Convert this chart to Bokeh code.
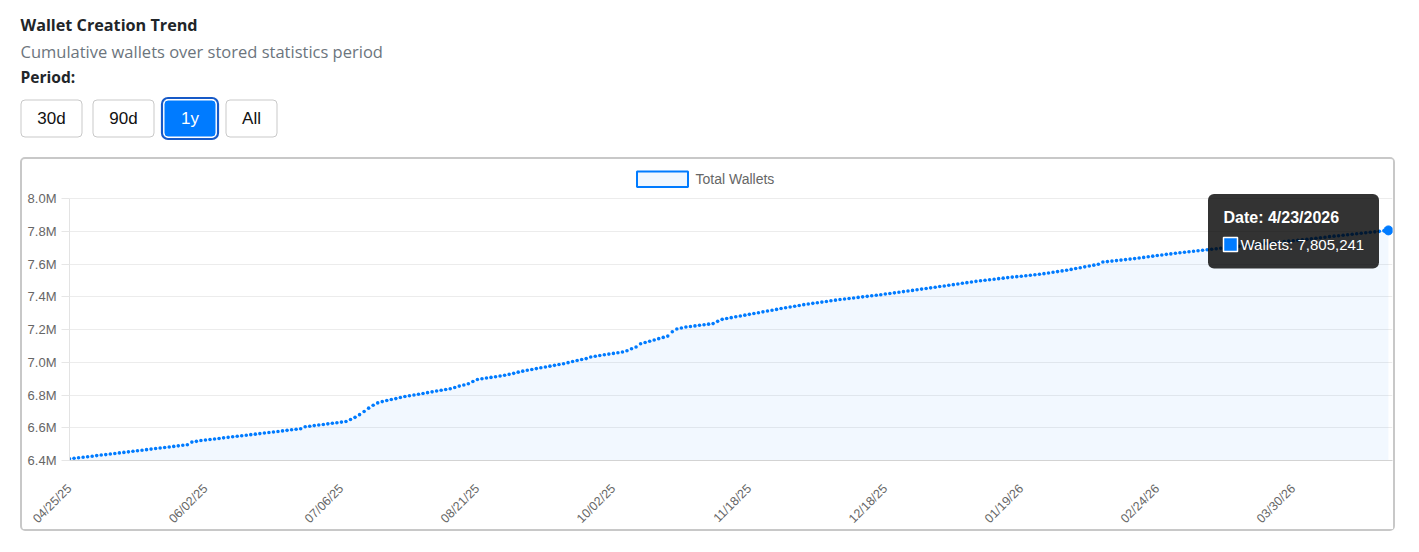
import math
from bokeh.plotting import figure
from bokeh.models import Range1d, FixedTicker, BoxAnnotation, Label
from bokeh.embed import file_html
from bokeh.resources import INLINE

# ---------------- data ----------------
title_text = "Wallet Creation Trend"
subtitle_text = "Cumulative wallets over stored statistics period"
period_text = "Period:"
period_buttons = ["30d", "90d", "1y", "All"]
active_period = "1y"
series_name = "Total Wallets"

x_tick_labels = ["04/25/25", "06/02/25", "07/06/25", "08/21/25", "10/02/25",
                 "11/18/25", "12/18/25", "01/19/26", "02/24/26", "03/30/26"]
x_tick_step = 30
y_ticks = [6400000, 6600000, 6800000, 7000000, 7200000, 7400000, 7600000, 7800000, 8000000]
y_tick_labels = ["6.4M", "6.6M", "6.8M", "7.0M", "7.2M", "7.4M", "7.6M", "7.8M", "8.0M"]
tooltip_date = "4/23/2026"

# cumulative wallets, in thousands, one value per stored statistics point
wallets_k = [
    6410.2, 6413.5, 6416.9, 6420.1, 6423.0, 6426.4, 6429.8, 6433.2, 6436.1, 6439.5,
    6442.9, 6446.4, 6449.6, 6452.8, 6456.3, 6459.7, 6462.9, 6466.2, 6469.6, 6473.0,
    6476.1, 6479.5, 6482.8, 6486.2, 6489.4, 6492.7, 6496.1, 6512.4, 6517.0, 6521.8,
    6525.1, 6528.3, 6531.6, 6534.8, 6538.2, 6541.3, 6544.7, 6547.9, 6551.2, 6554.6,
    6557.8, 6561.0, 6564.4, 6567.6, 6570.9, 6574.3, 6577.5, 6580.8, 6584.1, 6587.4,
    6590.6, 6594.0, 6605.8, 6609.4, 6613.0, 6616.6, 6620.1, 6623.7, 6627.3, 6630.8,
    6634.4, 6638.0, 6650.2, 6663.5, 6680.1, 6699.6, 6719.8, 6737.5, 6751.9, 6759.8,
    6766.2, 6772.1, 6778.0, 6784.3, 6790.4, 6795.2, 6800.1, 6804.9, 6809.6, 6814.4,
    6819.2, 6824.0, 6828.7, 6833.5, 6838.3, 6846.0, 6854.2, 6861.5, 6868.9, 6882.0,
    6895.1, 6899.3, 6903.4, 6907.6, 6911.8, 6915.9, 6920.1, 6926.0, 6932.3, 6939.5,
    6945.8, 6951.2, 6956.0, 6961.1, 6966.0, 6971.2, 6976.1, 6981.0, 6986.2, 6991.0,
    6997.5, 7004.2, 7010.6, 7016.9, 7022.4, 7032.5, 7036.8, 7041.1, 7045.4, 7049.7,
    7054.0, 7058.2, 7062.4, 7070.1, 7082.3, 7092.8, 7112.6, 7120.4, 7128.3, 7136.1,
    7144.0, 7151.8, 7159.7, 7186.4, 7203.0, 7209.6, 7215.1, 7218.6, 7222.1, 7225.7,
    7229.2, 7232.6, 7236.1, 7249.8, 7261.9, 7267.0, 7272.3, 7277.5, 7282.6, 7287.6,
    7292.6, 7297.6, 7302.7, 7307.8, 7312.8, 7317.9, 7322.9, 7327.8, 7332.6, 7337.4,
    7342.2, 7347.0, 7351.8, 7355.7, 7359.6, 7363.5, 7367.4, 7371.3, 7375.2, 7379.1,
    7383.0, 7386.3, 7389.5, 7392.8, 7396.0, 7399.3, 7402.5, 7405.8, 7409.0, 7412.7,
    7416.4, 7420.1, 7423.9, 7427.6, 7431.3, 7435.0, 7438.9, 7442.8, 7446.6, 7450.5,
    7454.4, 7458.2, 7462.1, 7466.0, 7470.0, 7474.0, 7478.0, 7482.0, 7486.0, 7490.0,
    7494.0, 7497.3, 7500.6, 7503.9, 7507.1, 7510.4, 7513.7, 7517.0, 7519.9, 7522.7,
    7525.6, 7528.4, 7531.3, 7534.1, 7537.0, 7541.2, 7545.3, 7549.5, 7553.7, 7557.8,
    7562.0, 7567.0, 7572.2, 7577.4, 7582.6, 7587.8, 7593.0, 7598.1, 7611.8, 7614.8,
    7617.8, 7620.9, 7623.9, 7626.9, 7629.9, 7633.0, 7636.7, 7640.4, 7644.1, 7647.9,
    7651.6, 7655.3, 7659.0, 7662.1, 7665.3, 7668.4, 7671.5, 7674.6, 7677.8, 7680.9,
    7684.0, 7687.0, 7690.0, 7693.0, 7696.0, 7699.0, 7702.0, 7705.0, 7707.9, 7710.7,
    7713.6, 7716.5, 7719.3, 7722.2, 7725.1, 7728.0, 7730.8, 7733.7, 7736.6, 7739.4,
    7742.3, 7745.2, 7748.0, 7751.1, 7754.3, 7757.4, 7760.6, 7763.7, 7766.9, 7770.0,
    7772.9, 7775.9, 7778.8, 7781.7, 7784.7, 7787.6, 7790.6, 7793.5, 7796.4, 7799.4,
    7802.3, 7805.241,
]
wallets = [round(v * 1000) for v in wallets_k]
idx = list(range(len(wallets)))

BLUE = "#007bff"

# ---------------- header (title, subtitle, period buttons) ----------------
HW, HH = 1419, 157
hdr = figure(width=HW, height=HH, output_backend="svg", toolbar_location=None,
             x_range=Range1d(0, HW), y_range=Range1d(HH, 0),
             x_axis_location=None, y_axis_location=None, min_border=0)
hdr.outline_line_color = None
hdr.grid.grid_line_color = None
hdr.background_fill_color = "white"
hdr.border_fill_color = "white"


def hbox(l, t, r, b, **kw):
    kw.setdefault("line_alpha", 1.0)
    hdr.add_layout(BoxAnnotation(left=l, right=r, top=t, bottom=b, **kw))


def hlabel(x, y, text, **kw):
    hdr.add_layout(Label(x=x, y=y, text=text, text_baseline="middle", **kw))


hlabel(20, 24.5, title_text, text_font="Open Sans", text_font_style="bold",
       text_font_size="16.2px", text_color="#212529")
hlabel(20, 50.8, subtitle_text, text_font="Open Sans", text_font_size="16.5px",
       text_color="#6c757d")
hlabel(20, 76.7, period_text, text_font="Open Sans", text_font_style="bold",
       text_font_size="15.6px", text_color="#212529")

btn_x = [(20.5, 81.5), (92.5, 153.5), (163.5, 215.5), (225.5, 276.5)]
for name, (l, r) in zip(period_buttons, btn_x):
    if name == active_period:
        hbox(l - 2, 97.5, r + 2, 138.5, fill_alpha=0, line_color="#1659c7",
             line_width=2.2, border_radius=6)
        hbox(l, 99.5, r, 136.5, fill_color=BLUE, fill_alpha=1, line_color="white",
             line_width=1, border_radius=4)
        col = "white"
    else:
        hbox(l, 99.5, r, 136.5, fill_color="white", fill_alpha=1, line_color="#c9c9c9",
             line_width=1, border_radius=4)
        col = "#111111"
    hlabel((l + r) / 2, 118, name, text_font="Liberation Sans", text_font_size="17px",
           text_color=col, text_align="center")

# ---------------- chart card ----------------
CW, CH = 1375, 374            # card size (css border drawn over its edge)
FL_LOCAL, FB_LOCAL = 47, 301  # frame left / bottom inside the card canvas
FL, FB = 69, 460              # same, in page pixels
extra_top = (y_ticks[-1] - y_ticks[0]) * 39 / 262  # room above 8.0M for the legend row

p = figure(width=CW, height=CH, output_backend="svg", toolbar_location=None,
           x_range=Range1d(0, len(wallets) - 1 + 0.9),
           y_range=Range1d(y_ticks[0], y_ticks[-1] + extra_top),
           min_border_left=FL_LOCAL, min_border_right=5,
           min_border_top=0, min_border_bottom=CH - FB_LOCAL,
           margin=(0, 0, 0, 20))
p.styles = {"border": "2px solid #c8c8c8", "border-radius": "5px"}
p.outline_line_color = None
p.background_fill_color = "white"
p.border_fill_color = "white"

xa = p.xaxis[0]
xa.ticker = FixedTicker(ticks=[i * x_tick_step for i in range(len(x_tick_labels))])
xa.major_label_overrides = {i * x_tick_step: lab for i, lab in enumerate(x_tick_labels)}
xa.major_label_orientation = math.pi / 4
xa.major_tick_line_color = None
xa.minor_tick_line_color = None
xa.axis_line_color = "#d3d3d3"
xa.major_label_text_font = "Liberation Sans"
xa.major_label_text_font_size = "12.5px"
xa.major_label_text_color = "#666666"
xa.major_label_standoff = 20

ya = p.yaxis[0]
yt = FixedTicker(ticks=y_ticks)
ya.ticker = yt
ya.bounds = (y_ticks[0], y_ticks[-1])
ya.major_label_overrides = {t: lab for t, lab in zip(y_ticks, y_tick_labels)}
ya.major_tick_in = 0
ya.major_tick_out = 8
ya.major_tick_line_color = "#e6e6e6"
ya.minor_tick_line_color = None
ya.axis_line_color = "#e3e3e3"
ya.major_label_text_font = "Liberation Sans"
ya.major_label_text_font_size = "13px"
ya.major_label_text_color = "#666666"
ya.major_label_standoff = 5

p.xgrid.grid_line_color = None
p.ygrid.ticker = yt
p.ygrid.grid_line_color = "#ececec"

p.varea(x=idx, y1=y_ticks[0], y2=wallets, fill_color=BLUE, fill_alpha=0.05)
p.scatter(x=idx, y=wallets, size=3.6, fill_color=BLUE, line_color=None)
p.scatter(x=[idx[-1]], y=[wallets[-1]], size=9, fill_color=BLUE, line_color=BLUE)


def box(l, t, r, b, **kw):
    kw.setdefault("line_alpha", 1.0)
    p.add_layout(BoxAnnotation(left=l - FL, right=r - FL, top=FB - t, bottom=FB - b,
                               left_units="screen", right_units="screen",
                               top_units="screen", bottom_units="screen", **kw))


def label(x, y, text, **kw):
    p.add_layout(Label(x=x - FL, y=FB - y, x_units="screen", y_units="screen",
                       text=text, text_baseline="middle", **kw))


# legend
box(636.5, 171, 687.5, 186.5, fill_color=BLUE, fill_alpha=0.06, line_color=BLUE, line_width=2)
label(695, 178.5, series_name, text_font="Liberation Sans", text_font_size="14px",
      text_color="#666666")

# hover tooltip for the last point
box(1207.5, 193.5, 1378.5, 268, fill_color="black", fill_alpha=0.8, line_alpha=0, border_radius=6)
box(1223, 237, 1237, 251, fill_color=BLUE, fill_alpha=1, line_color="white", line_width=1.5)
label(1223, 216.7, f"Date: {tooltip_date}", text_font="Liberation Sans", text_font_style="bold",
      text_font_size="16px", text_color="white")
label(1240, 243.7, f"Wallets: {wallets[-1]:,}", text_font="Liberation Sans",
      text_font_size="15px", text_color="white")

open("out.html", "w").write(file_html([hdr, p], INLINE))
